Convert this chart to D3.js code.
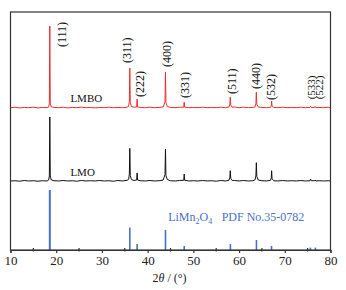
<!DOCTYPE html>
<html>
<head>
<meta charset="utf-8">
<script src="https://cdn.jsdelivr.net/npm/d3@7"></script>
<style>
  html, body { margin: 0; padding: 0; background: #fff; }
  svg { display: block; font-family: "Liberation Serif", "Times New Roman", serif; }
</style>
</head>
<body>
<svg id="xrd-chart" width="346" height="290"></svg>
<script>
// XRD patterns, [2theta, intensity] pairs (arbitrary units)
const lmboPattern = [
  [10,0.3],[11,0.5],[12,0.2],[13,0.4],[14,0.3],[15,0.5],[16,0.2],[17,0.4],[18,0.3],
  [18.35,0.6],[18.5,2.2],[18.6,34.6],[18.7,2.2],[18.9,0.7],[19.5,0.4],[20.5,0.3],[21.5,0.5],
  [22.5,0.2],[23.5,0.4],[24.5,0.3],[25.5,0.5],[26.5,0.3],[27.5,0.4],[28.5,0.2],[29.5,0.4],
  [30.5,0.3],[31.5,0.5],[32.5,0.3],[33.5,0.4],[34.5,0.3],[35.5,0.5],[35.85,0.9],[36.0,3.0],
  [36.1,16.9],[36.2,2.5],[36.45,0.8],[37.0,0.5],[37.6,0.6],[37.7,3.9],[37.8,0.6],[38.5,0.4],
  [39.5,0.3],[40.5,0.5],[41.5,0.3],[42.5,0.4],[43.4,0.6],[43.8,2.8],[43.9,15.3],[44.0,2.4],
  [44.3,0.8],[45,0.4],[46,0.3],[47,0.5],[47.9,0.5],[48.0,2.6],[48.1,0.5],[49,0.3],[50,0.4],
  [51,0.3],[52,0.5],[53,0.3],[54,0.4],[55,0.3],[56,0.5],[57,0.3],[57.8,0.6],[57.98,1.8],
  [58.08,4.7],[58.18,1.4],[58.5,0.5],[59,0.6],[60,0.3],[61,0.5],[62,0.3],[63,0.4],[63.5,0.7],
  [63.68,2.0],[63.78,6.8],[63.88,1.8],[64.2,0.6],[65,0.4],[66,0.3],[66.9,0.5],[67.05,1.2],
  [67.12,3.1],[67.22,0.9],[67.6,0.4],[68.5,0.3],[69.5,0.5],[70.5,0.3],[71.5,0.4],[72.5,0.3],
  [73.5,0.5],[74.5,0.3],[75.5,0.4],[75.65,0.9],[75.8,0.4],[76.5,0.4],[76.65,0.8],[76.8,0.3],
  [77.5,0.4],[78.5,0.3],[79.5,0.5],[80,0.3]
];

const lmoPattern = [
  [10,0.3],[11,0.4],[12,0.2],[13,0.5],[14,0.3],[15,0.4],[16,0.2],[17,0.4],[18,0.3],
  [18.35,0.7],[18.5,2.4],[18.6,27.2],[18.7,2.4],[18.9,0.8],[19.5,0.4],[20.5,0.3],[21.5,0.5],
  [22.5,0.3],[23.5,0.4],[24.5,0.2],[25.5,0.5],[26.5,0.3],[27.5,0.4],[28.5,0.3],[29.5,0.5],
  [30.5,0.3],[31.5,0.4],[32.5,0.2],[33.5,0.5],[34.5,0.3],[35.5,0.6],[35.85,1.0],[36.0,3.2],
  [36.1,14.0],[36.2,2.6],[36.45,0.9],[37.0,0.5],[37.6,0.7],[37.7,3.7],[37.8,0.7],[38.5,0.4],
  [39.5,0.3],[40.5,0.5],[41.5,0.3],[42.5,0.4],[43.4,0.7],[43.8,3.0],[43.9,13.7],[44.0,2.6],
  [44.3,0.9],[45,0.4],[46,0.3],[47,0.5],[47.9,0.6],[48.0,3.2],[48.1,0.6],[49,0.3],[50,0.4],
  [51,0.3],[52,0.5],[53,0.3],[54,0.4],[55,0.2],[56,0.5],[57,0.3],[57.8,0.6],[57.98,1.8],
  [58.08,4.6],[58.18,1.4],[58.5,0.5],[59,0.5],[60,0.3],[61,0.5],[62,0.3],[63,0.4],[63.5,0.8],
  [63.68,2.4],[63.78,8.0],[63.88,2.2],[64.2,0.7],[65,0.4],[66,0.3],[66.9,0.6],[67.05,1.6],
  [67.12,4.6],[67.22,1.2],[67.6,0.4],[68.5,0.3],[69.5,0.5],[70.5,0.3],[71.5,0.4],[72.5,0.3],
  [73.5,0.5],[74.5,0.3],[75.5,0.4],[75.65,1.1],[75.8,0.4],[76.5,0.4],[76.65,0.7],[76.8,0.3],
  [77.5,0.4],[78.5,0.3],[79.5,0.4],[80,0.3]
];

// vertical offsets of the stacked patterns
const patternOffsets = { lmbo: 59.5, lmo: 28.7 };

// LiMn2O4 reference lines (PDF No.35-0782)
const pdfAngles = [18.6, 36.1, 37.7, 43.9, 48.0, 58.1, 63.8, 67.1, 75.6, 76.7];
const pdfIntensity = [25.2, 9.5, 2.5, 8.4, 1.7, 2.5, 4.2, 1.7, 1.0, 1.0];

// Miller index labels: text, 2theta of label, level of label start
const hklLabels = ['(111)', '(311)', '(222)', '(400)', '(331)', '(511)', '(440)', '(532)', '(533)', '(522)'];
const hklAngles = [21.2, 35.4, 38.2, 44.1, 48.1, 58.3, 63.6, 67.0, 75.8, 77.6];
const hklLevels = [85.3, 78.6, 64.3, 76.9, 63.9, 65.5, 67.6, 63.0, 63.3, 63.3];
const hklSizes = [12, 12, 12, 12, 12, 12, 12, 12, 11, 11];

const xTicks = [10, 20, 30, 40, 50, 60, 70, 80];
const xMinorTicks = [15, 25, 35, 45, 55, 65, 75];

const RED = '#ee2d2d';
const BLACK = '#111111';
const BLUE = '#4a72c4';
const FRAME = '#333333';

const MARGIN = { top: 12, right: 15.5, bottom: 40, left: 10.5 };
const WIDTH = 346 - MARGIN.left - MARGIN.right;
const HEIGHT = 290 - MARGIN.top - MARGIN.bottom;

const svg = d3.select('#xrd-chart');
const g = svg.append('g')
  .attr('transform', `translate(${MARGIN.left},${MARGIN.top})`);

const x = d3.scaleLinear().domain([10, 80]).range([0, WIDTH]);
const y = d3.scaleLinear().domain([0, 100]).range([HEIGHT, 0]);

// patterns
const line = offset => d3.line()
  .x(d => x(d[0]))
  .y(d => y(d[1] + offset));

g.append('path')
  .datum(lmoPattern)
  .attr('fill', 'none')
  .attr('stroke', BLACK)
  .attr('stroke-width', 1)
  .attr('d', line(patternOffsets.lmo));

g.append('path')
  .datum(lmboPattern)
  .attr('fill', 'none')
  .attr('stroke', RED)
  .attr('stroke-width', 1)
  .attr('d', line(patternOffsets.lmbo));

// reference sticks
g.selectAll('.stick')
  .data(pdfAngles)
  .enter().append('line')
  .attr('class', 'stick')
  .attr('x1', d => x(d))
  .attr('x2', d => x(d))
  .attr('y1', y(0))
  .attr('y2', (d, i) => y(pdfIntensity[i]))
  .attr('stroke', BLUE)
  .attr('stroke-width', (d, i) => i === 0 ? 2 : 1.6);

// hkl labels
g.selectAll('.hkl')
  .data(hklLabels)
  .enter().append('text')
  .attr('class', 'hkl')
  .attr('transform', (d, i) => `translate(${x(hklAngles[i])},${y(hklLevels[i])}) rotate(-90)`)
  .attr('dy', '0.35em')
  .attr('text-anchor', 'start')
  .style('font-size', (d, i) => hklSizes[i] + 'px')
  .style('fill', '#111')
  .text(d => d);

// sample names
g.append('text')
  .attr('x', x(23.1))
  .attr('y', y(patternOffsets.lmbo + 2.6))
  .style('font-size', '11px')
  .style('fill', '#111')
  .text('LMBO');

g.append('text')
  .attr('x', x(23.1))
  .attr('y', y(patternOffsets.lmo + 2.5))
  .style('font-size', '11px')
  .style('fill', '#111')
  .text('LMO');

const refLabel = g.append('text')
  .attr('x', x(44.5))
  .attr('y', y(12))
  .style('font-size', '12px')
  .style('fill', BLUE);
refLabel.append('tspan').text('LiMn');
refLabel.append('tspan').attr('dy', 3).style('font-size', '8px').text('2');
refLabel.append('tspan').attr('dy', -3).text('O');
refLabel.append('tspan').attr('dy', 3).style('font-size', '8px').text('4');
refLabel.append('tspan').attr('dy', -3).attr('x', x(56.2)).text('PDF No.35-0782');

// frame
g.append('rect')
  .attr('x', 0)
  .attr('y', 0)
  .attr('width', WIDTH)
  .attr('height', HEIGHT)
  .attr('fill', 'none')
  .attr('stroke', FRAME)
  .attr('stroke-width', 1.2);

// x axis
const xAxis = g.append('g')
  .attr('transform', `translate(0,${HEIGHT})`)
  .call(d3.axisBottom(x).tickValues(xTicks).tickSize(3).tickPadding(3).tickFormat(d3.format('d')));
xAxis.select('.domain').attr('stroke', FRAME).attr('stroke-width', 1.2);
xAxis.selectAll('.tick line').attr('stroke', FRAME).attr('stroke-width', 1.2);
xAxis.selectAll('.tick text')
  .style('font-family', '"Liberation Serif", serif')
  .style('font-size', '13px')
  .style('fill', '#222');

g.selectAll('.minor-tick')
  .data(xMinorTicks)
  .enter().append('line')
  .attr('class', 'minor-tick')
  .attr('x1', d => x(d))
  .attr('x2', d => x(d))
  .attr('y1', HEIGHT - 2)
  .attr('y2', HEIGHT + 1.5)
  .attr('stroke', FRAME)
  .attr('stroke-width', 1.2);

// axis title
const title = g.append('text')
  .attr('x', WIDTH / 2 - 1)
  .attr('y', HEIGHT + 31.5)
  .attr('text-anchor', 'middle')
  .style('font-size', '12px')
  .style('fill', '#222');
title.append('tspan').text('2');
title.append('tspan').style('font-style', 'italic').text('θ');
title.append('tspan').text(' / (°)');
</script>
</body>
</html>
